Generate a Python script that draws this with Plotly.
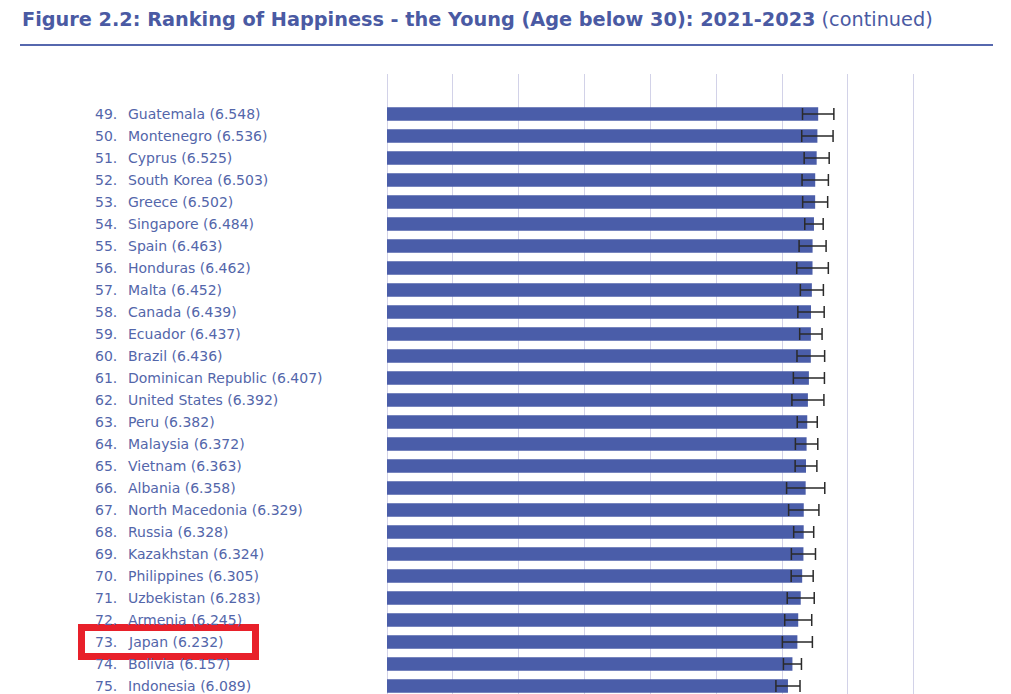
import plotly.graph_objects as go

W, H = 1011, 694
OFF = 8  # page body margin offset of the figure div

ranks = list(range(49, 76))
countries = ["Guatemala", "Montenegro", "Cyprus", "South Korea", "Greece", "Singapore",
             "Spain", "Honduras", "Malta", "Canada", "Ecuador", "Brazil",
             "Dominican Republic", "United States", "Peru", "Malaysia", "Vietnam",
             "Albania", "North Macedonia", "Russia", "Kazakhstan", "Philippines",
             "Uzbekistan", "Armenia", "Japan", "Bolivia", "Indonesia"]
scores = [6.548, 6.536, 6.525, 6.503, 6.502, 6.484, 6.463, 6.462, 6.452, 6.439,
          6.437, 6.436, 6.407, 6.392, 6.382, 6.372, 6.363, 6.358, 6.329, 6.328,
          6.324, 6.305, 6.283, 6.245, 6.232, 6.157, 6.089]
ci_half = [0.238, 0.238, 0.19, 0.20, 0.19, 0.14, 0.205, 0.24, 0.175, 0.20,
           0.17, 0.21, 0.236, 0.243, 0.152, 0.17, 0.165, 0.29, 0.23, 0.152,
           0.183, 0.167, 0.205, 0.205, 0.228, 0.137, 0.183]
highlight = "Japan"

BAR = "#4a5da9"
TXT = "#5366aa"
TITLE = "#4a5aa3"
FONT = "DejaVu Sans"


def px(v):
    return (v - OFF) / W


def py(v):
    return 1 - (v - OFF) / H


fig = go.Figure()
fig.add_trace(go.Bar(
    x=scores, y=countries, orientation="h",
    marker=dict(color=BAR, line=dict(width=0)),
    width=0.61,
    error_x=dict(type="data", array=ci_half, symmetric=True,
                 color="#2a2a2a", thickness=1.5, width=6),
    hoverinfo="x+y",
))

x0_px, unit_px, xmax = 387.0, 65.85, 8.05
row0_px, row_px = 114.0, 22.0
top_px = 74.0

annotations = []
for r, c, s in zip(ranks, countries, scores):
    annotations.append(dict(x=px(93), xref="paper", y=c, yref="y", text=f"{r}.",
                            showarrow=False, xanchor="left", yanchor="middle",
                            font=dict(family=FONT, size=14, color=TXT)))
    annotations.append(dict(x=px(126), xref="paper", y=c, yref="y",
                            text=f"{c} ({s:.3f})",
                            showarrow=False, xanchor="left", yanchor="middle",
                            font=dict(family=FONT, size=14, color=TXT)))

annotations.append(dict(
    x=px(20), xref="paper", y=py(20), yref="paper",
    text="<b>Figure 2.2: Ranking of Happiness - the Young (Age below 30): 2021-2023</b> (continued)",
    showarrow=False, xanchor="left", yanchor="middle",
    font=dict(family=FONT, size=19.3, color=TITLE)))

hi = countries.index(highlight)
shapes = [
    dict(type="line", xref="paper", yref="paper", x0=px(20), x1=px(993),
         y0=py(45), y1=py(45), line=dict(color="#5668ae", width=2)),
    dict(type="rect", xref="paper", yref="y", x0=px(81.5), x1=px(255.5),
         y0=hi - 0.66, y1=hi + 0.66, line=dict(color="#e8202a", width=7),
         fillcolor="rgba(0,0,0,0)", layer="above"),
]

y_bot_screen = 694.0
fig.update_layout(
    width=W, height=H,
    margin=dict(l=0, r=0, t=0, b=0),
    paper_bgcolor="white", plot_bgcolor="white",
    showlegend=False,
    xaxis=dict(domain=[px(x0_px), px(x0_px + xmax * unit_px)],
               range=[0, xmax], dtick=1, tick0=0,
               showgrid=True, gridcolor="#d2d2e8", gridwidth=1.2,
               zeroline=True, zerolinecolor="#d2d2e8", zerolinewidth=1.2,
               showticklabels=False, ticks="", showline=False),
    yaxis=dict(domain=[py(y_bot_screen), py(top_px)],
               range=[(y_bot_screen - row0_px) / row_px, -(row0_px - top_px) / row_px],
               showgrid=False, zeroline=False, showticklabels=False,
               ticks="", showline=False, type="category"),
    annotations=annotations,
    shapes=shapes,
)

fig.write_html("out.html")
